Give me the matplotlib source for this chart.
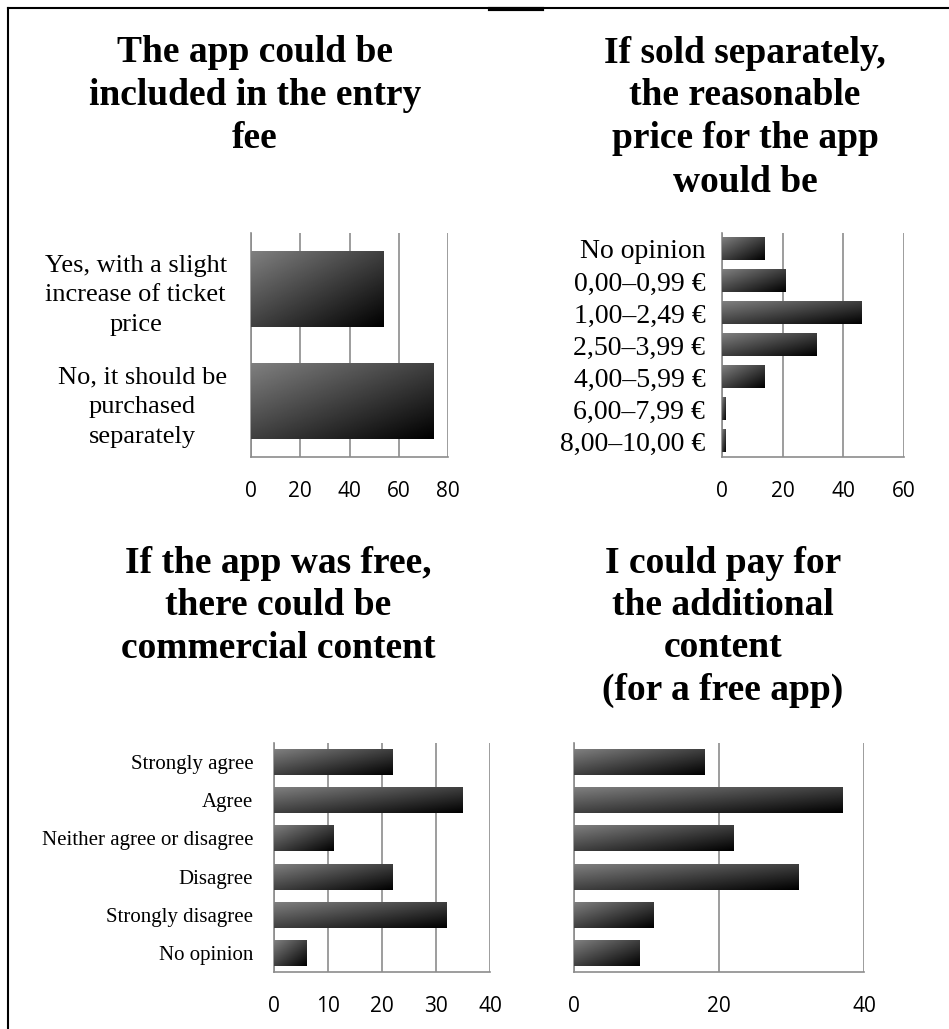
import numpy as np
import matplotlib
matplotlib.use("Agg")
import matplotlib.pyplot as plt
from matplotlib import font_manager
from matplotlib.lines import Line2D

# --- data (number of answers, n = 128) ---
entry_labels = ["Yes, with a slight\nincrease of ticket\nprice",
                "No, it should be\npurchased\nseparately"]
entry_values = [54, 74]

price_labels = ["No opinion", "0,00–0,99 €", "1,00–2,49 €", "2,50–3,99 €",
                "4,00–5,99 €", "6,00–7,99 €", "8,00–10,00 €"]
price_values = [14, 21, 46, 31, 14, 1, 1]

agree_labels = ["Strongly agree", "Agree", "Neither agree or disagree",
                "Disagree", "Strongly disagree", "No opinion"]
commercial_values = [22, 35, 11, 22, 32, 6]
pay_values = [18, 37, 22, 31, 11, 9]

titles = [
    ["The app could be", "included in the entry", "fee"],
    ["If sold separately,", "the reasonable", "price for the app", "would be"],
    ["If the app was free,", "there could be", "commercial content"],
    ["I could pay for", "the additional", "content", "(for a free app)"],
]

W, H = 949, 1029
serif = "Liberation Serif"
names = {f.name for f in font_manager.fontManager.ttflist}
tick_font = "Liberation Sans Narrow" if "Liberation Sans Narrow" in names else "Open Sans"
grid_c = "#8c8c8c"

fig = plt.figure(figsize=(W / 100, H / 100), dpi=100)


def px_axes(left, right, top, bottom):
    return fig.add_axes([left / W, 1 - bottom / H, (right - left) / W, (bottom - top) / H])


# diagonal grey-to-black fill used for every bar
r = np.linspace(0, 1, 60)[:, None]
c = np.linspace(0, 1, 120)[None, :]
grad = 0.5 * (1 - (r + c) / 2)


def panel(ax, labels, values, xmax, step, bar_h, lab_size, lab_pad, show_labels=True):
    n = len(values)
    for i, v in enumerate(values):
        y = n - 1 - i
        ax.imshow(grad, cmap="gray", vmin=0, vmax=1, origin="upper", aspect="auto",
                  interpolation="bilinear",
                  extent=(0, v, y - bar_h / 2, y + bar_h / 2), zorder=3)
    ax.set_xlim(0, xmax)
    ax.set_ylim(-0.5, n - 0.5)
    ax.set_xticks(np.arange(0, xmax + 1, step))
    ax.grid(axis="x", color=grid_c, lw=1.2)
    ax.grid(axis="y", visible=False)
    ax.set_axisbelow(True)
    for s in ["top", "right"]:
        ax.spines[s].set_visible(False)
    for s in ["left", "bottom"]:
        ax.spines[s].set_color(grid_c)
        ax.spines[s].set_linewidth(1.2)
    ax.tick_params(length=0)
    ax.tick_params(axis="x", pad=17, labelsize=15)
    for t in ax.get_xticklabels():
        t.set_fontfamily(tick_font)
    ax.set_yticks(range(n))
    if show_labels:
        ax.set_yticklabels(labels[::-1], fontfamily=serif, fontsize=lab_size)
        for t in ax.get_yticklabels():
            t.set_multialignment("center")
            t.set_linespacing(1.45)
    else:
        ax.set_yticklabels([])
    ax.tick_params(axis="y", pad=lab_pad)


ax1 = px_axes(251, 448, 233, 457)
panel(ax1, entry_labels, entry_values, 80, 20, 0.67, 19, 17.5)

ax2 = px_axes(722, 904, 233, 457)
panel(ax2, price_labels, price_values, 60, 20, 0.69, 20, 12)

ax3 = px_axes(274, 490, 743, 972)
panel(ax3, agree_labels, commercial_values, 40, 10, 0.68, 15, 15)

ax4 = px_axes(574, 864, 743, 972)
panel(ax4, agree_labels, pay_values, 40, 20, 0.68, 15, 15, show_labels=False)

# titles, one baseline per line
title_pos = [(255, [62, 105, 148]),
             (745, [63, 105, 148, 192]),
             (278, [573, 615, 658]),
             (723, [573, 615, 657, 700])]
for lines, (cx, bases) in zip(titles, title_pos):
    for line, by in zip(lines, bases):
        fig.text(cx / W, 1 - by / H, line, ha="center", va="baseline",
                 fontsize=27, fontweight="bold", fontfamily=serif)

# frame lines of the original page
fig.add_artist(Line2D([8 / W, 1], [1 - 8 / H, 1 - 8 / H], color="black", lw=1.5))
fig.add_artist(Line2D([8 / W, 8 / W], [0, 1 - 8 / H], color="black", lw=1.5))
fig.add_artist(Line2D([490 / W, 542 / W], [1 - 9 / H, 1 - 9 / H], color="black", lw=3))

fig.savefig("out.png", dpi=100)
